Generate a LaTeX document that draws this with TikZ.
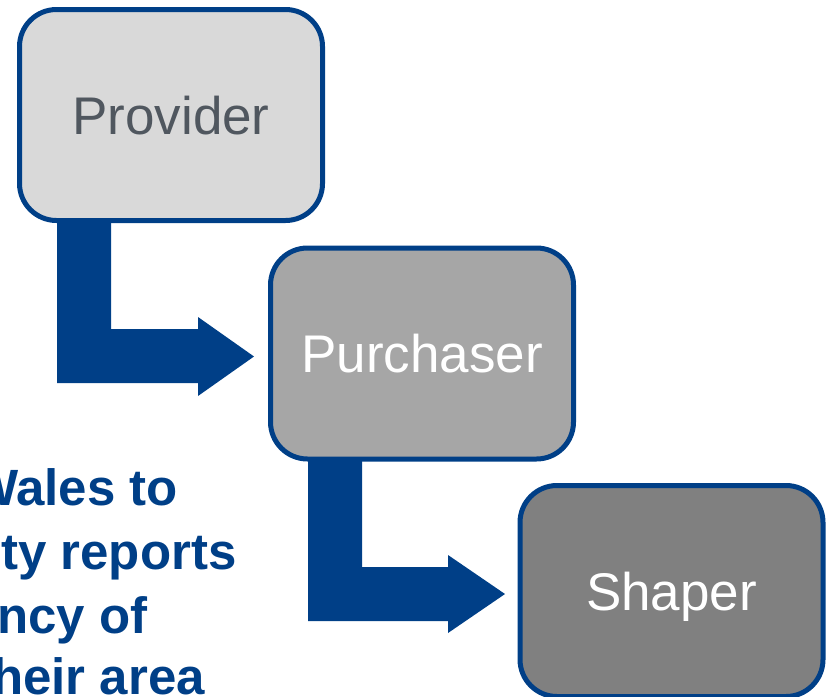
\documentclass[tikz,border=0pt]{standalone}
\usepackage{fontspec}
\setmainfont{Liberation Sans}
\definecolor{dblue}{RGB}{0,63,135}
\definecolor{provfill}{RGB}{217,217,217}
\definecolor{purfill}{RGB}{166,166,166}
\definecolor{shapfill}{RGB}{128,128,128}
\definecolor{provtext}{RGB}{80,87,95}
\tikzset{
  stagebox/.style={draw=dblue, line width=5pt, rounded corners=37pt,
    minimum width=303pt, minimum height=211pt, inner sep=0pt,
    text height=38pt, text depth=0pt,
    font=\fontsize{53}{63}\selectfont},
  bentarrow/.style={fill=dblue, draw=none},
  sidetext/.style={anchor=base west, inner sep=0pt, text=dblue,
    font=\fontsize{51}{61}\selectfont\bfseries}
}
\begin{document}
\begin{tikzpicture}[x=1pt,y=-1pt]
\useasboundingbox (0,0) rectangle (829,696);
\clip (0,0) rectangle (829,696);
% bent arrows
\fill[bentarrow] (57,215) -- (111,215) -- (111,329) -- (198,329) -- (198,317)
  -- (254,356.5) -- (198,396) -- (198,383) -- (57,383) -- cycle;
\fill[bentarrow] (308,455) -- (362,455) -- (362,567) -- (448,567) -- (448,555)
  -- (505,594) -- (448,633) -- (448,621) -- (308,621) -- cycle;
% boxes
\node[stagebox, fill=provfill, text=provtext] (prov) at (171,115) {Provider};
\node[stagebox, fill=purfill, text=white] (purch) at (422,353.5) {Purchaser};
\node[stagebox, fill=shapfill, text=white] (shap) at (671.5,591) {Shaper};
% cut-off text
\node[sidetext] (t1) at (-30,505) {Wales to};
\node[sidetext] (t2) at (1,569) {ty reports};
\node[sidetext] (t3) at (-3,633) {ncy of};
\node[sidetext] (t4) at (-8,694) {heir area};
\end{tikzpicture}
\end{document}
